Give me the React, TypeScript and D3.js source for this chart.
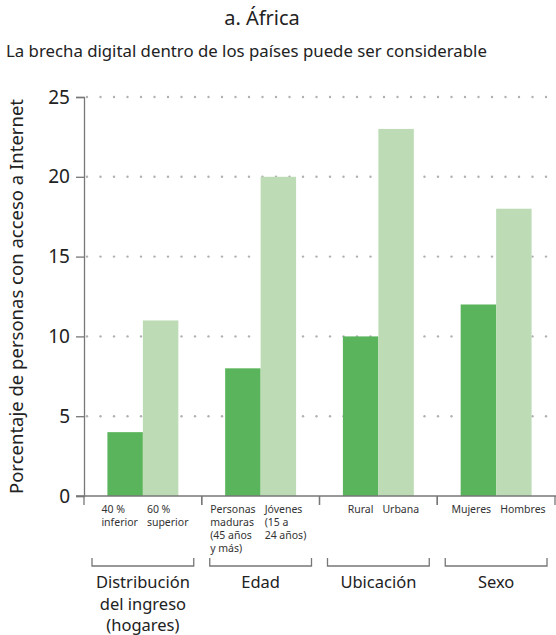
import React, { useEffect, useRef } from 'react';
import * as d3 from 'd3';

const groups = ['Distribución del ingreso (hogares)', 'Edad', 'Ubicación', 'Sexo'];
const groupLabelLines = [['Distribución', 'del ingreso', '(hogares)'], ['Edad'], ['Ubicación'], ['Sexo']];
const lowLabels = [['40 %', 'inferior'], ['Personas', 'maduras', '(45 años', 'y más)'], ['Rural'], ['Mujeres']];
const highLabels = [['60 %', 'superior'], ['Jóvenes', '(15 a', '24 años)'], ['Urbana'], ['Hombres']];
const lowValues = [4, 8, 10, 12];
const highValues = [11, 20, 23, 18];
const yTicks = [0, 5, 10, 15, 20, 25];

const FONT = '"Noto Sans", sans-serif';

const App = () => {
  const ref = useRef<SVGSVGElement>(null);

  useEffect(() => {
    const svg = d3.select(ref.current);
    svg.selectAll('*').remove();

    const W = 556;
    const H = 635;
    const margin = { top: 97, right: 1, bottom: 139, left: 84 };
    const plotH = H - margin.top - margin.bottom;

    const x0 = d3.scaleBand().domain(groups).range([margin.left, W - margin.right]).padding(0);
    const x1 = d3
      .scaleBand()
      .domain(['low', 'high'])
      .range([0, x0.bandwidth()])
      .paddingInner(0)
      .paddingOuter(0.66);
    const y = d3.scaleLinear().domain([0, 25]).range([margin.top + plotH, margin.top]);

    // title + subtitle
    svg
      .append('text')
      .attr('x', 262)
      .attr('y', 25)
      .attr('text-anchor', 'middle')
      .attr('font-size', 20)
      .attr('fill', '#222')
      .text('a. África');
    svg
      .append('text')
      .attr('x', 6)
      .attr('y', 57)
      .attr('font-size', 16.8)
      .attr('fill', '#222')
      .text('La brecha digital dentro de los países puede ser considerable');

    // dotted gridlines
    yTicks
      .filter((t) => t > 0)
      .forEach((t) => {
        const dots = d3.range(margin.left + 3, W, 13.5);
        svg
          .append('g')
          .selectAll('circle')
          .data(dots)
          .join('circle')
          .attr('cx', (d) => d)
          .attr('cy', y(t))
          .attr('r', 1.2)
          .attr('fill', '#b0b0b0');
      });

    // bars
    groups.forEach((g, i) => {
      const gx = x0(g)!;
      svg
        .append('rect')
        .attr('x', gx + x1('low')!)
        .attr('y', y(lowValues[i]))
        .attr('width', x1.bandwidth())
        .attr('height', y(0) - y(lowValues[i]))
        .attr('fill', '#5ab45b');
      svg
        .append('rect')
        .attr('x', gx + x1('high')!)
        .attr('y', y(highValues[i]))
        .attr('width', x1.bandwidth())
        .attr('height', y(0) - y(highValues[i]))
        .attr('fill', '#bddcb6');
    });

    // y axis
    const yAxis = svg
      .append('g')
      .attr('transform', `translate(${margin.left},0)`)
      .call(d3.axisLeft(y).tickValues(yTicks).tickSize(8).tickPadding(6));
    yAxis.select('.domain').attr('stroke', '#777').attr('stroke-width', 1.3);
    yAxis.selectAll('.tick line').attr('stroke', '#777').attr('stroke-width', 1.3);
    yAxis.selectAll('.tick text').attr('font-size', 19).attr('font-family', FONT).attr('fill', '#222');

    // baseline + group separators
    svg
      .append('line')
      .attr('x1', margin.left - 8)
      .attr('x2', W)
      .attr('y1', y(0))
      .attr('y2', y(0))
      .attr('stroke', '#777')
      .attr('stroke-width', 1.3);
    groups.forEach((g) => {
      [x0(g)!, x0(g)! + x0.bandwidth()].forEach((sx) => {
        svg
          .append('line')
          .attr('x1', sx)
          .attr('x2', sx)
          .attr('y1', y(0))
          .attr('y2', y(0) + 9)
          .attr('stroke', '#777')
          .attr('stroke-width', 1.3);
      });
    });

    // category labels: left-aligned blocks, low one kept left of the bar boundary
    const drawLabel = (lines: string[], cx: number, mid: number, isLow: boolean) => {
      const t = svg
        .append('text')
        .attr('font-size', 10.5)
        .attr('fill', '#333')
        .attr('y', y(0) + 17);
      lines.forEach((l, k) => {
        t.append('tspan').attr('dy', k === 0 ? 0 : 13).text(l);
      });
      const tsp = t.selectAll<SVGTSpanElement, unknown>('tspan').nodes();
      const w = d3.max(tsp, (n) => n.getComputedTextLength()) || 0;
      const sx = isLow ? Math.min(cx - w / 2, mid - 5 - w) : mid + 4;
      t.selectAll('tspan').attr('x', sx);
    };
    groups.forEach((g, i) => {
      const gx = x0(g)!;
      const mid = gx + x1('high')!;
      drawLabel(lowLabels[i], gx + x1('low')! + x1.bandwidth() / 2, mid, true);
      drawLabel(highLabels[i], gx + x1('high')! + x1.bandwidth() / 2, mid, false);
    });

    // group brackets + labels
    groups.forEach((g, i) => {
      const a = x0(g)! + 8;
      const b = x0(g)! + x0.bandwidth() - 8;
      svg
        .append('path')
        .attr('d', `M${a},558V566H${b}V558`)
        .attr('fill', 'none')
        .attr('stroke', '#777')
        .attr('stroke-width', 1.3);
      groupLabelLines[i].forEach((l, k) => {
        svg
          .append('text')
          .attr('font-size', 16.5)
          .attr('fill', '#222')
          .attr('text-anchor', 'middle')
          .attr('x', (a + b) / 2)
          .attr('y', 588 + k * 21.5)
          .text(l);
      });
    });

    // y axis title
    svg
      .append('text')
      .attr('transform', `translate(23,${(y(0) + y(25)) / 2}) rotate(-90)`)
      .attr('text-anchor', 'middle')
      .attr('font-size', 18.5)
      .attr('fill', '#222')
      .text('Porcentaje de personas con acceso a Internet');
  }, []);

  return (
    <svg
      ref={ref}
      width={556}
      height={635}
      fontFamily={FONT}
      style={{ position: 'absolute', left: 0, top: 0, background: '#fff' }}
    />
  );
};

export default App;
